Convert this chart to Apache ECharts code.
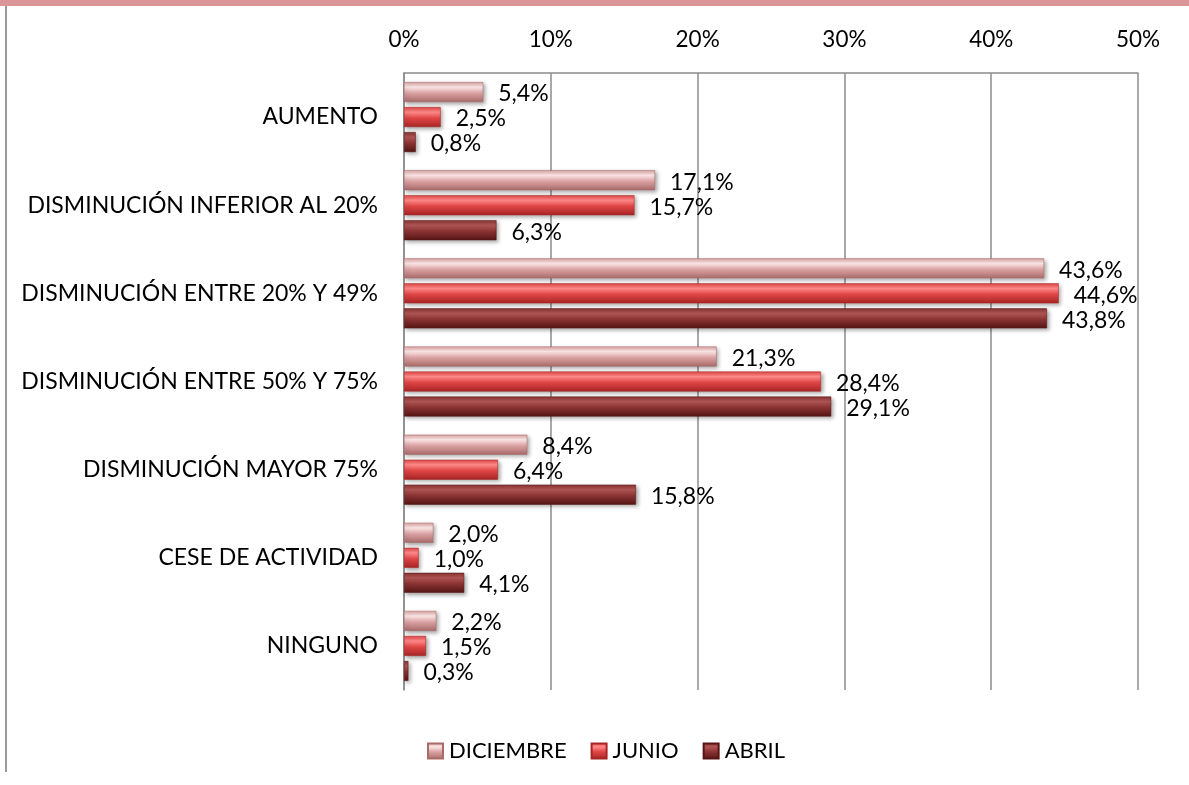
<!DOCTYPE html>
<head>
    <meta charset="utf-8">
    <script src="https://cdn.jsdelivr.net/npm/echarts@6/dist/echarts.min.js"></script>
    <title>Impacto en la facturación</title>
    <style>
        body { margin:0; background:#fff; }
        #band { position:absolute; left:0; top:0; width:1189px; height:6px; background:#dc9596; }
        #edge { position:absolute; left:5px; top:6px; width:2px; height:766px; background:#9a9a9a; }
        #main { position:absolute; left:0; top:0; width:1189px; height:785px; }
    </style>
</head>

<body>
    <div id="band"></div>
    <div id="edge"></div>
    <div id="main"></div>
    <script type="text/javascript">
        var categories = ['AUMENTO', 'DISMINUCIÓN INFERIOR AL 20%', 'DISMINUCIÓN ENTRE 20% Y 49%',
            'DISMINUCIÓN ENTRE 50% Y 75%', 'DISMINUCIÓN MAYOR 75%', 'CESE DE ACTIVIDAD', 'NINGUNO'];
        var seriesNames = ['DICIEMBRE', 'JUNIO', 'ABRIL'];
        var diciembre = [5.4, 17.1, 43.6, 21.3, 8.4, 2.0, 2.2];
        var junio = [2.5, 15.7, 44.6, 28.4, 6.4, 1.0, 1.5];
        var abril = [0.8, 6.3, 43.8, 29.1, 15.8, 4.1, 0.3];
        var xTicks = [0, 10, 20, 30, 40, 50];

        // top / middle / bottom tones of each bevelled bar
        var tones = [
            ['#fbe6e6', '#dba2a2', '#a96a6a'],
            ['#ff8a8a', '#e04545', '#a82525'],
            ['#b05555', '#8a3333', '#561515']
        ];
        function bevel(t) {
            return new echarts.graphic.LinearGradient(0, 0, 0, 1, [
                { offset: 0, color: t[1] },
                { offset: 0.25, color: t[0] },
                { offset: 0.55, color: t[1] },
                { offset: 1, color: t[2] }
            ]);
        }

        var myChart = echarts.init(document.getElementById('main'));
        var font = 'Lato, "Open Sans", sans-serif';

        var series = [diciembre, junio, abril].map(function (vals, i) {
            return {
                name: seriesNames[i],
                type: 'bar',
                data: vals,
                barWidth: 20,
                barGap: '25%',
                itemStyle: {
                    color: bevel(tones[i]),
                    borderColor: tones[i][2],
                    borderWidth: 0.5,
                    shadowColor: 'rgba(0,0,0,0.35)',
                    shadowBlur: 4,
                    shadowOffsetX: 2,
                    shadowOffsetY: 2
                },
                label: {
                    show: true,
                    position: 'right',
                    distance: 15,
                    offset: [0, 2],
                    color: '#000',
                    fontFamily: font,
                    fontSize: 23,
                    formatter: function (p) {
                        return p.value.toFixed(1).replace('.', ',') + '%';
                    }
                }
            };
        });

        var option = {
            animation: false,
            textStyle: { fontFamily: font },
            grid: { left: 404, right: 51, top: 73, bottom: 95 },
            legend: {
                top: 735,
                left: 422,
                itemWidth: 15,
                itemHeight: 15,
                itemGap: 24,
                icon: 'rect',
                textStyle: { fontSize: 22, color: '#000', fontFamily: font, padding: [0, 0, 0, 1] },
                data: seriesNames
            },
            xAxis: {
                type: 'value',
                position: 'top',
                min: xTicks[0],
                max: xTicks[xTicks.length - 1],
                interval: 10,
                axisLine: { show: true, lineStyle: { color: '#8c8c8c', width: 1.5 } },
                axisTick: { show: false },
                axisLabel: {
                    margin: 22,
                    fontSize: 22.5,
                    color: '#000',
                    formatter: function (v) { return v + '%'; }
                },
                splitLine: { show: true, lineStyle: { color: '#8c8c8c', width: 1.5 } }
            },
            yAxis: {
                type: 'category',
                inverse: true,
                data: categories,
                axisLine: { show: true, lineStyle: { color: '#8c8c8c', width: 1.5 } },
                axisTick: { show: false },
                axisLabel: { margin: 26, fontSize: 23, color: '#000' }
            },
            series: series
        };

        myChart.setOption(option);
    </script>
</body>
